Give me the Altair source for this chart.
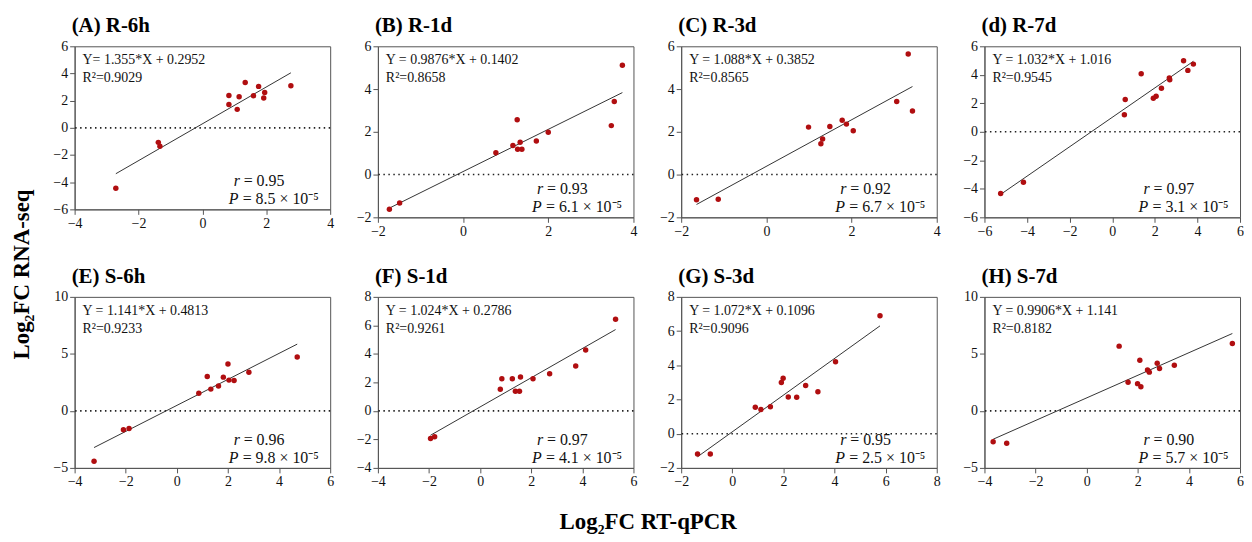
import altair as alt
import pandas as pd

# ---- data ----
A_x = [2.77, 1.34, 0.83, 0.83, 1.15, 1.09, 1.60, 1.76, 1.95, 1.92, -1.38, -1.33, -2.71]
A_y = [3.10, 3.33, 2.38, 1.71, 2.28, 1.36, 2.36, 3.05, 2.60, 2.20, -1.07, -1.36, -4.45]
B_x = [3.74, 3.55, 3.48, 2.00, 1.72, 1.34, 1.27, 1.17, 1.28, 1.38, 0.77, -1.49, -1.73]
B_y = [5.11, 3.42, 2.29, 1.98, 1.57, 1.51, 2.56, 1.36, 1.18, 1.18, 1.02, -1.33, -1.62]
C_x = [3.33, 3.06, 3.43, 1.78, 1.88, 2.04, 1.49, 0.99, 1.32, 1.28, -1.13, -1.64]
C_y = [5.64, 3.42, 2.97, 2.54, 2.36, 2.05, 2.25, 2.22, 1.66, 1.44, -1.15, -1.18]
D_x = [3.35, 3.81, 3.55, 1.36, 2.68, 2.70, 2.31, 2.06, 1.93, 0.61, 0.57, -4.17, -5.24]
D_y = [4.98, 4.75, 4.31, 4.08, 3.78, 3.65, 3.06, 2.50, 2.36, 2.27, 1.20, -3.54, -4.33]
E_x = [4.71, 2.82, 2.00, 1.82, 2.04, 2.24, 1.19, 1.63, 1.33, 0.86, -1.87, -2.09, -3.24]
E_y = [4.73, 3.39, 4.12, 2.96, 2.70, 2.67, 3.02, 2.18, 1.91, 1.54, -1.54, -1.65, -4.41]
F_x = [5.30, 4.13, 3.74, 2.72, 2.07, 1.58, 1.26, 0.85, 0.79, 1.38, 1.54, -1.78, -1.94]
F_y = [6.43, 4.27, 3.15, 2.61, 2.26, 2.38, 2.26, 2.26, 1.52, 1.38, 1.38, -1.82, -1.93]
G_x = [5.78, 4.04, 3.35, 2.87, 2.52, 2.19, 1.99, 1.92, 1.49, 1.12, 0.90, -0.86, -1.36]
G_y = [6.90, 4.21, 2.45, 2.82, 2.13, 2.15, 3.24, 2.99, 1.57, 1.42, 1.55, -1.19, -1.19]
H_x = [5.70, 3.43, 2.85, 2.76, 2.38, 2.45, 2.08, 1.99, 2.12, 1.62, 1.27, -3.13, -3.66]
H_y = [5.91, 4.01, 3.72, 4.18, 3.58, 3.40, 4.44, 2.39, 2.11, 2.51, 5.68, -2.83, -2.71]

titles = ["(A) R-6h", "(B) R-1d", "(C) R-3d", "(d) R-7d",
          "(E) S-6h", "(F) S-1d", "(G) S-3d", "(H) S-7d"]
xs_all = [A_x, B_x, C_x, D_x, E_x, F_x, G_x, H_x]
ys_all = [A_y, B_y, C_y, D_y, E_y, F_y, G_y, H_y]
slopes = [1.355, 0.9876, 1.088, 1.032, 1.141, 1.024, 1.072, 0.9906]
intercepts = [0.2952, 0.1402, 0.3852, 1.016, 0.4813, 0.2786, 0.1096, 1.141]
equations = ["Y= 1.355*X + 0.2952", "Y = 0.9876*X + 0.1402", "Y = 1.088*X + 0.3852",
             "Y = 1.032*X + 1.016", "Y = 1.141*X + 0.4813", "Y = 1.024*X + 0.2786",
             "Y = 1.072*X + 0.1096", "Y = 0.9906*X + 1.141"]
r2_texts = ["R²=0.9029", "R²=0.8658", "R²=0.8565", "R²=0.9545",
            "R²=0.9233", "R²=0.9261", "R²=0.9096", "R²=0.8182"]
r_texts = ["0.95", "0.93", "0.92", "0.97", "0.96", "0.97", "0.95", "0.90"]
p_texts = ["8.5", "6.1", "6.7", "3.1", "9.8", "4.1", "2.5", "5.7"]
x_domains = [(-4, 4), (-2, 4), (-2, 4), (-6, 6), (-4, 6), (-4, 6), (-2, 8), (-4, 6)]
y_domains = [(-6, 6), (-2, 6), (-2, 6), (-6, 6), (-5, 10), (-4, 8), (-2, 8), (-5, 10)]
x_ticks = [[-4, -2, 0, 2, 4], [-2, 0, 2, 4], [-2, 0, 2, 4], [-6, -4, -2, 0, 2, 4, 6],
           [-4, -2, 0, 2, 4, 6], [-4, -2, 0, 2, 4, 6], [-2, 0, 2, 4, 6, 8], [-4, -2, 0, 2, 4, 6]]
y_ticks = [[-6, -4, -2, 0, 2, 4, 6], [-2, 0, 2, 4, 6], [-2, 0, 2, 4, 6], [-6, -4, -2, 0, 2, 4, 6],
           [-5, 0, 5, 10], [-4, -2, 0, 2, 4, 6, 8], [-2, 0, 2, 4, 6, 8], [-5, 0, 5, 10]]

SERIF = "Liberation Serif"
W = 257
heights = [164, 172, 172, 172, 172, 172, 172, 172]


def panel(i):
    H = heights[i]
    pts = pd.DataFrame({"x": xs_all[i], "y": ys_all[i]})
    x0, x1 = min(xs_all[i]), max(xs_all[i])
    fit = pd.DataFrame({"x": [x0, x1],
                        "y": [slopes[i] * x0 + intercepts[i], slopes[i] * x1 + intercepts[i]]})
    xenc = alt.X("x:Q", scale=alt.Scale(domain=list(x_domains[i]), nice=False, zero=False),
                 axis=alt.Axis(values=x_ticks[i], title=None))
    yenc = alt.Y("y:Q", scale=alt.Scale(domain=list(y_domains[i]), nice=False, zero=False),
                 axis=alt.Axis(values=y_ticks[i], title=None))

    zero = alt.Chart(pd.DataFrame({"y": [0]})).mark_rule(
        color="#222", strokeDash=[1.5, 3.5], strokeWidth=1.6).encode(y=yenc)
    line = alt.Chart(fit).mark_line(color="#333", strokeWidth=1).encode(x=xenc, y=yenc)
    dots = alt.Chart(pts).mark_circle(size=30, color="#B00E10", opacity=1).encode(x=xenc, y=yenc)

    def txt(s, x, y, size, style="normal"):
        return alt.Chart(pd.DataFrame({"t": [s]})).mark_text(
            font=SERIF, fontSize=size, fontStyle=style, align="left", baseline="middle",
            color="#111").encode(x=alt.value(x), y=alt.value(y), text="t:N")

    layers = [zero, line, dots,
              txt(equations[i], 8, 14, 14),
              txt(r2_texts[i], 8, 32, 14),
              txt("r", W - 97, H - 28, 16, "italic"),
              txt("= " + r_texts[i], W - 87, H - 28, 16),
              txt("P", W - 102, H - 10, 16, "italic"),
              txt("= " + p_texts[i] + " × 10⁻⁵", W - 88, H - 10, 16)]
    return alt.layer(*layers).properties(
        width=W, height=H,
        title=alt.TitleParams(titles[i], anchor="start", frame="group", font=SERIF,
                              fontSize=21, fontWeight="bold", color="black", offset=3, dx=-3))


grid = alt.concat(*[panel(i) for i in range(8)], columns=4,
                  spacing={"row": 80, "column": 48}, bounds="flush").properties(
    title=alt.TitleParams("Log₂FC RT-qPCR", orient="bottom", anchor="middle", font=SERIF,
                          fontSize=23, fontWeight="bold", color="black", offset=22))

chart = alt.hconcat(grid).properties(
    background="white",
    padding={"left": 3, "top": 5, "right": 0, "bottom": 5},
    title=alt.TitleParams("Log₂FC RNA-seq", orient="left", anchor="middle", font=SERIF,
                          fontSize=23, fontWeight="bold", color="black", offset=18)
).configure_view(stroke="#555", strokeWidth=1).configure_axis(
    grid=False, domainColor="#555", tickColor="#555", tickSize=5, tickWidth=1,
    labelFont=SERIF, labelFontSize=14, labelColor="#111", labelPadding=2,
    labelFlush=False, labelOverlap=False
)

chart.save("out.html", embed_options={"renderer": "svg", "actions": False})
